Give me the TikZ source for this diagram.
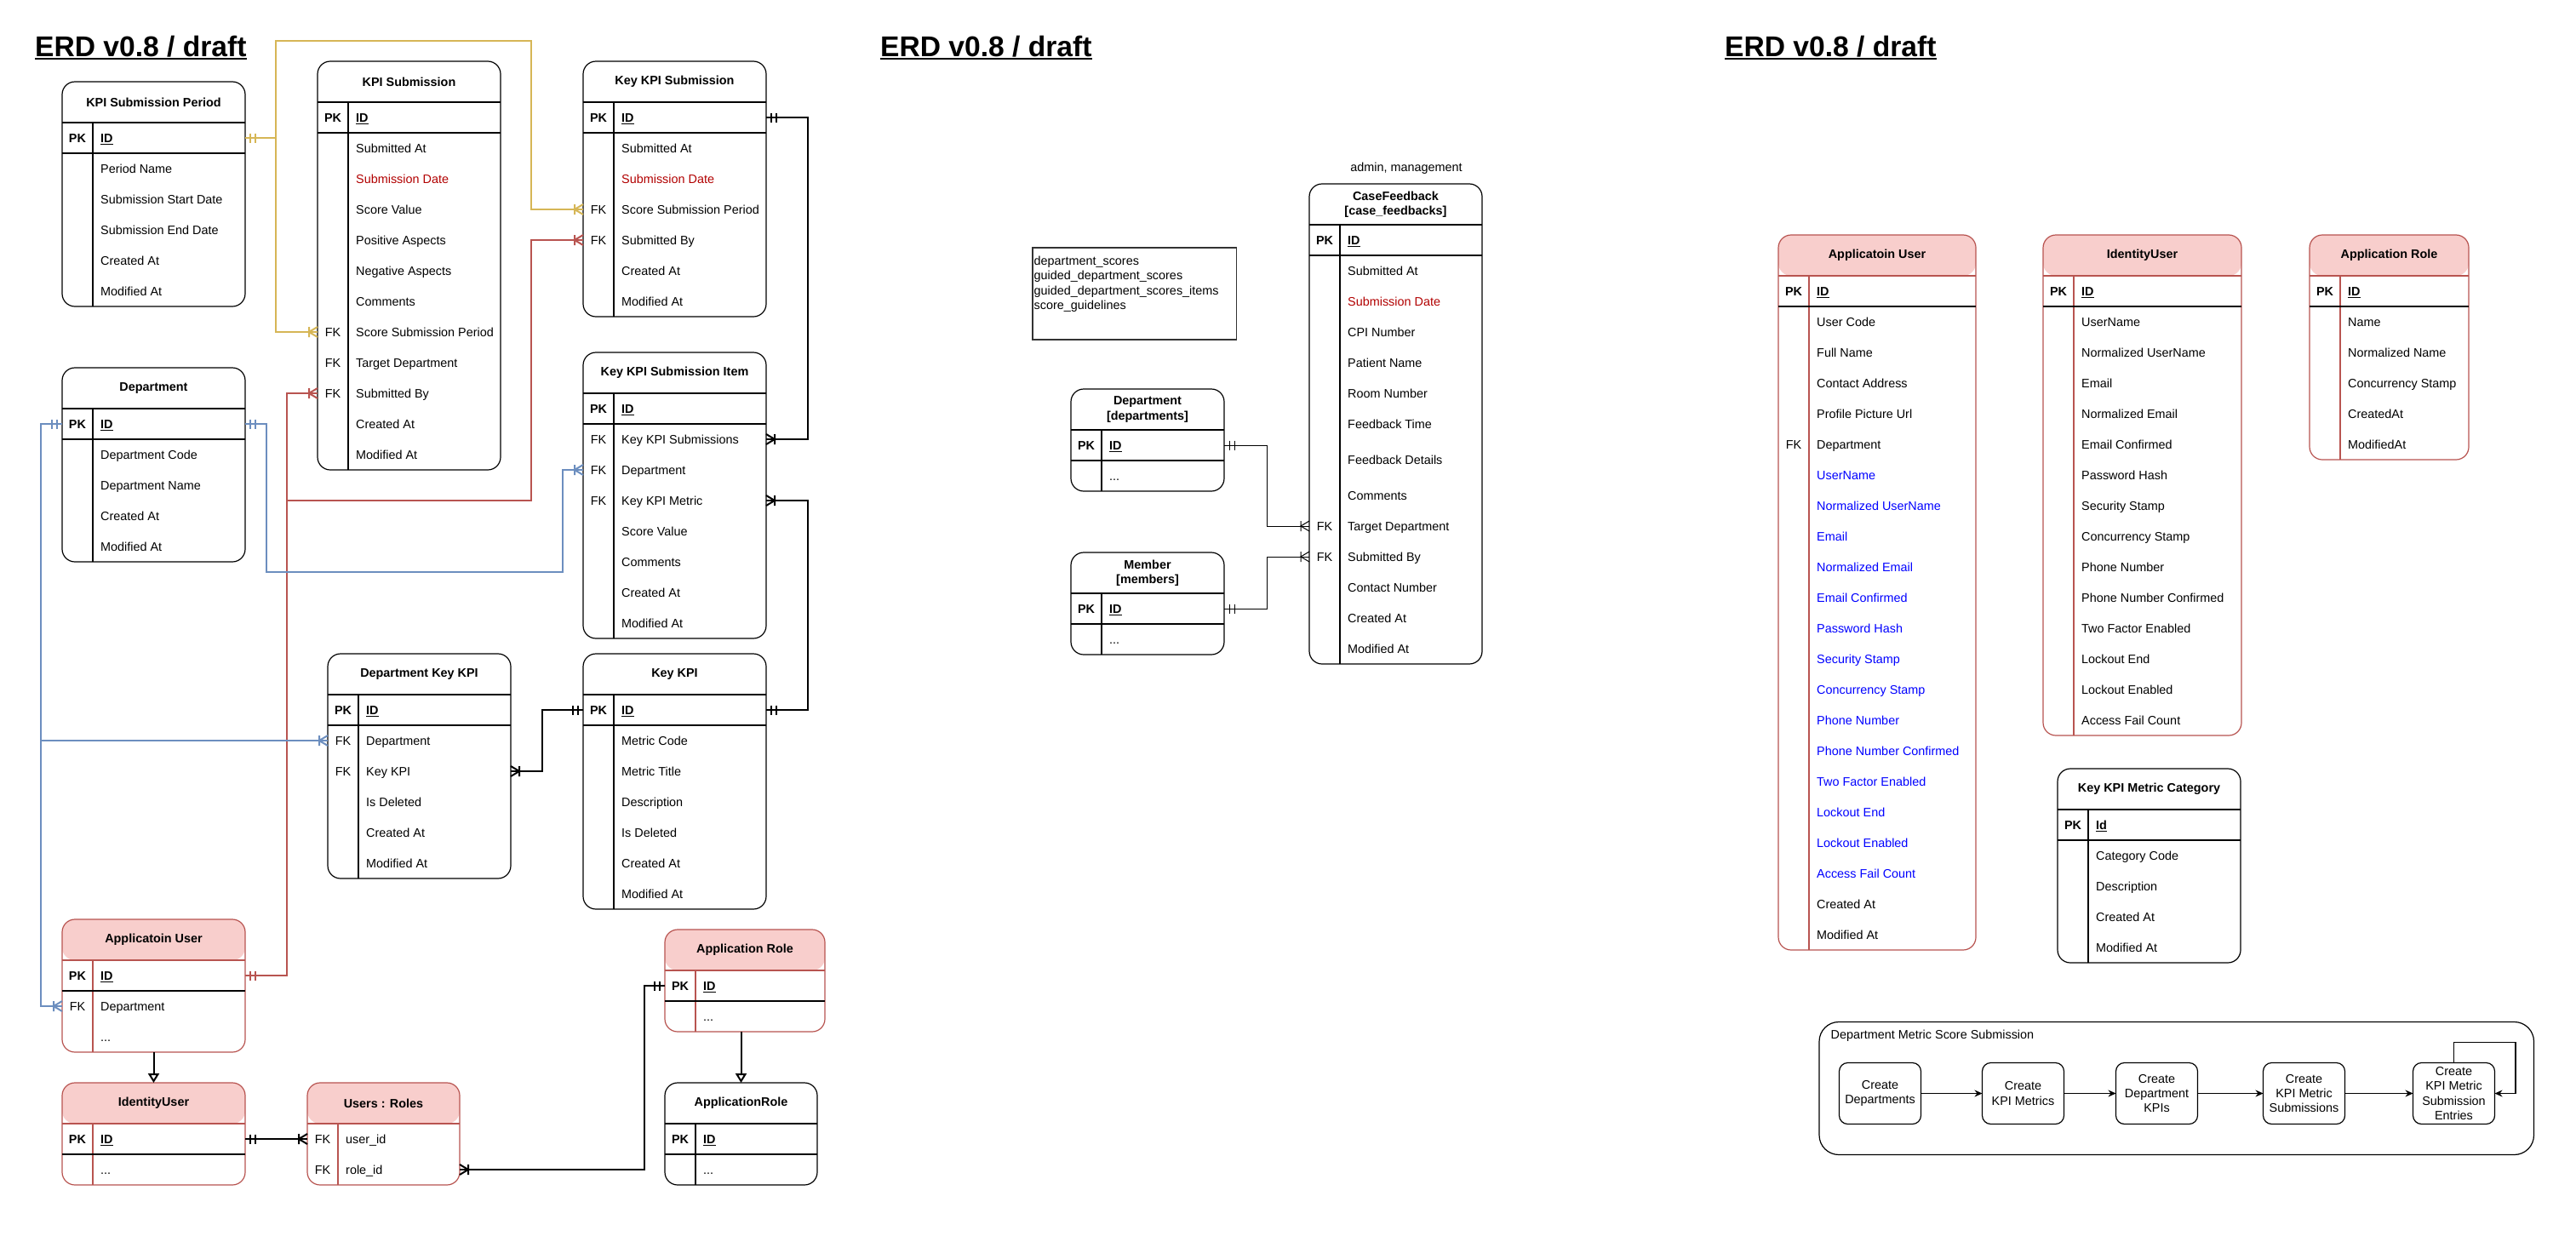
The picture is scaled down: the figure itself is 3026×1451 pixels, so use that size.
\documentclass[tikz,border=0pt]{standalone}
\usepackage{fontspec}
\setmainfont{Liberation Sans}
\usetikzlibrary{arrows.meta,positioning}

\definecolor{erpink}{HTML}{F8CECC}
\definecolor{erline}{HTML}{B85450}
\definecolor{eryellow}{HTML}{D6B656}
\definecolor{erblue}{HTML}{6C8EBF}
\definecolor{errtext}{HTML}{B20000}

% ER tips: mandatory one and one-to-many
\pgfdeclarearrow{
  name = erone,
  parameters = {\the\pgflinewidth},
  setup code = {},
  drawing code = {
    \pgfpathmoveto{\pgfpoint{-6pt}{-5.5pt}}
    \pgfpathlineto{\pgfpoint{-6pt}{5.5pt}}
    \pgfpathmoveto{\pgfpoint{-12pt}{-5.5pt}}
    \pgfpathlineto{\pgfpoint{-12pt}{5.5pt}}
    \pgfusepathqstroke
  }
}
\pgfdeclarearrow{
  name = ermany,
  parameters = {\the\pgflinewidth},
  setup code = {},
  drawing code = {
    \pgfpathmoveto{\pgfpoint{0pt}{6pt}}
    \pgfpathlineto{\pgfpoint{-10pt}{0pt}}
    \pgfpathlineto{\pgfpoint{0pt}{-6pt}}
    \pgfpathmoveto{\pgfpoint{-10pt}{-6pt}}
    \pgfpathlineto{\pgfpoint{-10pt}{6pt}}
    \pgfusepathqstroke
  }
}

\newcommand\underid[1]{\setbox0\hbox{#1}\rlap{\rule[-2.6pt]{\wd0}{1.2pt}}\box0}
\newcommand\undertitle[1]{\setbox0\hbox{#1}\rlap{\rule[-4.4pt]{\wd0}{2.5pt}}\box0}
\newcommand\rowdots{...}

\tikzset{
  every node/.style={font=\fontsize{14.4}{17.3}\selectfont},
  erdtitle/.style={font=\fontsize{33.6}{40}\selectfont\bfseries, inner sep=0, anchor=base west},
  erframe/.style={draw, rounded corners=15pt, line width=1.2pt, inner sep=0, outer sep=0},
  erframe line/.style={line width=1.2pt},
  pinkframe/.style={erframe, draw=erline, path picture={\fill[erpink] (path picture bounding box.north west) rectangle ([yshift=-48pt]path picture bounding box.north east);}},
  pinkframe line/.style={line width=1.2pt, draw=erline},
  pkline/.style={line width=1.2pt, draw=black},
  tabletitle/.style={font=\fontsize{14.4}{17.3}\selectfont\bfseries, align=center, inner sep=0},
  rowbox/.style={inner sep=0, outer sep=0, minimum height=36pt},
  keytext/.style={inner sep=0, text height=10.4pt, text depth=0pt},
  fieldtext/.style={inner sep=0, anchor=west, text height=10.4pt, text depth=0pt},
  pkfont/.style={font=\fontsize{14.4}{17.3}\selectfont\bfseries},
  rowplain/.style={},
  rowred/.style={text=errtext},
  rowblue/.style={text=blue},
  rowtall/.style={minimum height=48pt},
  rel/.style={line width=2pt},
  thinrel/.style={line width=1pt},
  isa/.style={-{Triangle[open, length=11pt, width=13pt]}},
  groupbox/.style={draw, rounded corners=23pt, line width=1.2pt, inner sep=0, outer sep=0},
  stepbox/.style={draw, rounded corners=10pt, line width=1.2pt, minimum width=96pt, minimum height=72pt, align=center, inner sep=1pt, outer sep=0},
  flowarrow/.style={line width=1.2pt, -{Stealth[length=9pt, width=8pt]}},
  notebox/.style={draw=black!80, line width=1.2pt, inner sep=0, outer sep=0},
}

% #1 name, #2 frame style, #3 left, #4 top, #5 width, #6 height, #7 title, #8 pk, #9 rows
\newcommand\ertable[9]{%
  \node[#2, minimum width=#5pt, minimum height=#6pt, anchor=north west] (#1) at (#3,#4) {};
  \node[tabletitle] (#1-title) at ([yshift=-24pt]#1.north) {#7};
  \draw[#2 line] ([yshift=-48pt]#1.north west) -- ([yshift=-48pt]#1.north east);
  \draw[#2 line] ([xshift=36pt, yshift=-48pt]#1.north west) -- ([xshift=36pt]#1.south west);
  \def\pktext{#8}%
  \ifx\pktext\empty
    \node[rowbox, minimum width=#5pt, minimum height=0pt, anchor=north west] (#1-0) at ([yshift=-48pt]#1.north west) {};
  \else
    \node[rowbox, minimum width=#5pt, anchor=north west] (#1-0) at ([yshift=-48pt]#1.north west) {};
    \node[keytext, pkfont] (#1-0-key) at ([xshift=18pt]#1-0.west) {PK};
    \node[fieldtext, pkfont] (#1-0-text) at ([xshift=45pt]#1-0.west) {#8};
    \draw[pkline] (#1-0.south west) -- (#1-0.south east);
  \fi
  \foreach \rk/\rt/\rs [count=\i] in {#9} {
    \pgfmathtruncatemacro\rj{\i-1}
    \node[rowbox, minimum width=#5pt, anchor=north west, \rs] (#1-\i) at (#1-\rj.south west) {};
    \node[keytext] (#1-\i-key) at ([xshift=18pt]#1-\i.west) {\rk};
    \node[fieldtext, \rs] (#1-\i-text) at ([xshift=45pt]#1-\i.west) {\rt};
  }
}

\begin{document}
\begin{tikzpicture}[x=1pt, y=-1pt]
\fill[white, use as bounding box] (0,0) rectangle (3026,1451);

% titles
\node[erdtitle] (title-a) at (41,66) {\undertitle{ERD v0.8 / draft}};
\node[erdtitle] (title-b) at (1034,66) {\undertitle{ERD v0.8 / draft}};
\node[erdtitle] (title-c) at (2026,66) {\undertitle{ERD v0.8 / draft}};

% KPI tables
\ertable{period}{erframe}{73}{96}{215}{264}{KPI Submission Period}{\underid{ID}}{
  /Period Name/rowplain, /Submission Start Date/rowplain, /Submission End Date/rowplain,
  /Created At/rowplain, /Modified At/rowplain}
\ertable{kpisub}{erframe}{373}{72}{215}{480}{KPI Submission}{\underid{ID}}{
  /Submitted At/rowplain, /Submission Date/rowred, /Score Value/rowplain,
  /Positive Aspects/rowplain, /Negative Aspects/rowplain, /Comments/rowplain,
  FK/Score Submission Period/rowplain, FK/Target Department/rowplain,
  FK/Submitted By/rowplain, /Created At/rowplain, /Modified At/rowplain}
\ertable{keysub}{erframe}{685}{72}{215}{300}{Key KPI Submission}{\underid{ID}}{
  /Submitted At/rowplain, /Submission Date/rowred, FK/Score Submission Period/rowplain,
  FK/Submitted By/rowplain, /Created At/rowplain, /Modified At/rowplain}
\ertable{keyitem}{erframe}{685}{414}{215}{336}{Key KPI Submission Item}{\underid{ID}}{
  FK/Key KPI Submissions/rowplain, FK/Department/rowplain, FK/Key KPI Metric/rowplain,
  /Score Value/rowplain, /Comments/rowplain, /Created At/rowplain, /Modified At/rowplain}
\ertable{dept}{erframe}{73}{432}{215}{228}{Department}{\underid{ID}}{
  /Department Code/rowplain, /Department Name/rowplain, /Created At/rowplain,
  /Modified At/rowplain}
\ertable{deptkey}{erframe}{385}{768}{215}{264}{Department Key KPI}{\underid{ID}}{
  FK/Department/rowplain, FK/Key KPI/rowplain, /Is Deleted/rowplain,
  /Created At/rowplain, /Modified At/rowplain}
\ertable{keykpi}{erframe}{685}{768}{215}{300}{Key KPI}{\underid{ID}}{
  /Metric Code/rowplain, /Metric Title/rowplain, /Description/rowplain,
  /Is Deleted/rowplain, /Created At/rowplain, /Modified At/rowplain}

% identity tables
\ertable{appuser}{pinkframe}{73}{1080}{215}{156}{Applicatoin User}{\underid{ID}}{
  FK/Department/rowplain, /\rowdots/rowplain}
\ertable{identity}{pinkframe}{73}{1272}{215}{120}{IdentityUser}{\underid{ID}}{/\rowdots/rowplain}
\ertable{usersroles}{pinkframe}{361}{1272}{179}{120}{Users : Roles}{}{
  FK/user\_id/rowplain, FK/role\_id/rowplain}
\ertable{approle}{pinkframe}{781}{1092}{188}{120}{Application Role}{\underid{ID}}{/\rowdots/rowplain}
\ertable{approlebase}{erframe}{781}{1272}{179}{120}{ApplicationRole}{\underid{ID}}{/\rowdots/rowplain}

% relationships
\draw[rel, eryellow, erone-ermany] (period-0.east) -- ++(36,0) |- (kpisub-7.west);
\draw[rel, eryellow, erone-ermany] (period-0.east) -- ++(36,0) |- (624,48) |- (keysub-3.west);
\draw[rel, erline, erone-ermany] (appuser-0.east) -- ++(49,0) |- (kpisub-9.west);
\draw[rel, erline, erone-ermany] (appuser-0.east) -- ++(49,0) |- (624,588) |- (keysub-4.west);
\draw[rel, erblue, erone-ermany] (dept-0.west) -- ++(-25,0) |- (appuser-1.west);
\draw[rel, erblue, erone-ermany] (dept-0.west) -- ++(-25,0) |- (deptkey-1.west);
\draw[rel, erblue, erone-ermany] (dept-0.east) -- ++(25,0) |- (661,672) |- (keyitem-2.west);
\draw[rel, erone-ermany] (keysub-0.east) -- ++(49,0) |- (keyitem-1.east);
\draw[rel, erone-ermany] (keykpi-0.east) -- ++(49,0) |- (keyitem-3.east);
\draw[rel, erone-ermany] (keykpi-0.west) -- ++(-48,0) |- (deptkey-2.east);
\draw[rel, erone-ermany] (identity-0.east) -- (usersroles-1.west);
\draw[rel, erone-ermany] (approle-0.west) -- ++(-24,0) |- (usersroles-2.east);
\draw[rel, isa] (appuser.south) -- (identity.north);
\draw[rel, isa] (approle.south -| approlebase.north) -- (approlebase.north);

% case feedback
\node (cfnote) at (1652,198) {admin, management};
\node[notebox, minimum width=239.5pt, minimum height=108pt, anchor=north west] (tablelist) at (1213,291) {};
\node[anchor=north west, align=left, inner sep=0] (tablelist-text) at ([xshift=1.5pt, yshift=-10pt]tablelist.north west)
  {department\_scores\\guided\_department\_scores\\guided\_department\_scores\_items\\score\_guidelines};
\ertable{cf}{erframe}{1538}{216}{203}{564}{CaseFeedback\\{}[case\_feedbacks]}{\underid{ID}}{
  /Submitted At/rowplain, /Submission Date/rowred, /CPI Number/rowplain,
  /Patient Name/rowplain, /Room Number/rowplain, /Feedback Time/rowplain,
  /Feedback Details/rowtall, /Comments/rowplain, FK/Target Department/rowplain,
  FK/Submitted By/rowplain, /Contact Number/rowplain, /Created At/rowplain,
  /Modified At/rowplain}
\ertable{deptb}{erframe}{1258}{457}{180}{120}{Department\\{}[departments]}{\underid{ID}}{/\rowdots/rowplain}
\ertable{member}{erframe}{1258}{649}{180}{120}{Member\\{}[members]}{\underid{ID}}{/\rowdots/rowplain}
\draw[thinrel, erone-ermany] (deptb-0.east) -- ++(50,0) |- (cf-9.west);
\draw[thinrel, erone-ermany] (member-0.east) -- ++(50,0) |- (cf-10.west);

% identity model
\ertable{userfull}{pinkframe}{2089}{276}{232}{840}{Applicatoin User}{\underid{ID}}{
  /User Code/rowplain, /Full Name/rowplain, /Contact Address/rowplain,
  /Profile Picture Url/rowplain, FK/Department/rowplain, /UserName/rowblue,
  /Normalized UserName/rowblue, /Email/rowblue, /Normalized Email/rowblue,
  /Email Confirmed/rowblue, /Password Hash/rowblue, /Security Stamp/rowblue,
  /Concurrency Stamp/rowblue, /Phone Number/rowblue, /Phone Number Confirmed/rowblue,
  /Two Factor Enabled/rowblue, /Lockout End/rowblue, /Lockout Enabled/rowblue,
  /Access Fail Count/rowblue, /Created At/rowplain, /Modified At/rowplain}
\ertable{identityfull}{pinkframe}{2400}{276}{233}{588}{IdentityUser}{\underid{ID}}{
  /UserName/rowplain, /Normalized UserName/rowplain, /Email/rowplain,
  /Normalized Email/rowplain, /Email Confirmed/rowplain, /Password Hash/rowplain,
  /Security Stamp/rowplain, /Concurrency Stamp/rowplain, /Phone Number/rowplain,
  /Phone Number Confirmed/rowplain, /Two Factor Enabled/rowplain, /Lockout End/rowplain,
  /Lockout Enabled/rowplain, /Access Fail Count/rowplain}
\ertable{rolefull}{pinkframe}{2713}{276}{187}{264}{Application Role}{\underid{ID}}{
  /Name/rowplain, /Normalized Name/rowplain, /Concurrency Stamp/rowplain,
  /CreatedAt/rowplain, /ModifiedAt/rowplain}
\ertable{metriccat}{erframe}{2417}{903}{215}{228}{Key KPI Metric Category}{\underid{Id}}{
  /Category Code/rowplain, /Description/rowplain, /Created At/rowplain,
  /Modified At/rowplain}

% submission flow
\node[groupbox, minimum width=839.5pt, minimum height=156pt, anchor=north west] (flow) at (2137,1200.5) {};
\node[anchor=west, inner sep=0] (flow-label) at (2150.5,1217) {Department Metric Score Submission};
\node[stepbox] (step1) at (2208.5,1284.5) {Create\\Departments};
\node[stepbox, right=72pt of step1] (step2) {Create\\KPI Metrics};
\node[stepbox, right=61pt of step2] (step3) {Create\\Department\\KPIs};
\node[stepbox, right=77pt of step3] (step4) {Create\\KPI Metric\\Submissions};
\node[stepbox, right=80pt of step4] (step5) {Create\\KPI Metric\\Submission\\Entries};
\foreach \a/\b in {step1/step2, step2/step3, step3/step4, step4/step5}
  \draw[flowarrow] (\a) -- (\b);
\draw[flowarrow] (step5.north) -- ++(0,-24) -- ++(72.5,0) |- (step5.east);
\end{tikzpicture}
\end{document}
